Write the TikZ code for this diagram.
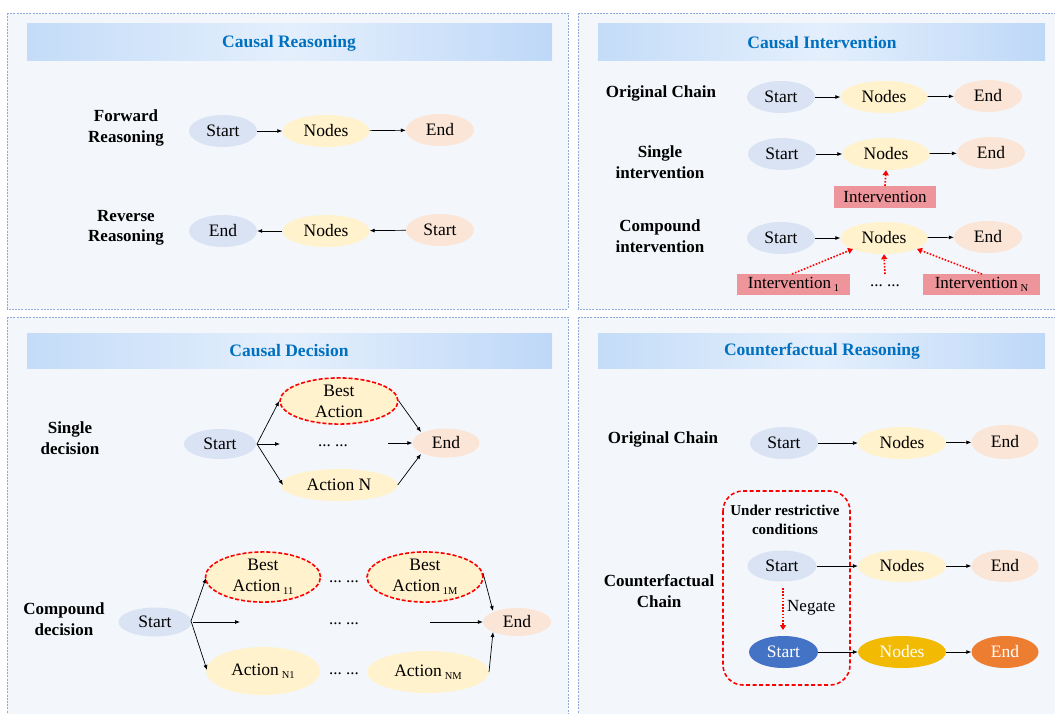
\documentclass[tikz,border=0pt]{standalone}
\usepackage{fontspec}
\setmainfont{Liberation Serif}
\usetikzlibrary{arrows.meta,shapes.geometric}
\definecolor{panelbg}{HTML}{F3F7FC}
\definecolor{panelbd}{HTML}{8EAADB}
\definecolor{hdrL}{HTML}{C4DCF8}
\definecolor{hdrM}{HTML}{E4EFFC}
\definecolor{hdrR}{HTML}{BED8F8}
\definecolor{ttl}{HTML}{0070C0}
\definecolor{cstart}{HTML}{DAE3F3}
\definecolor{cnodes}{HTML}{FFF2CC}
\definecolor{cend}{HTML}{FBE5D6}
\definecolor{cint}{HTML}{EE949B}
\definecolor{dstart}{HTML}{4472C4}
\definecolor{dnodes}{HTML}{F2BA02}
\definecolor{dend}{HTML}{ED7D31}
\tikzset{
  panel/.style={fill=panelbg, draw=panelbd, line width=0.8pt, dash pattern=on 2pt off 1.2pt},
  hdr/.style={left color=hdrL, right color=hdrR, middle color=hdrM, draw=none},
  ttlstyle/.style={font=\fontsize{17.5}{19}\selectfont\bfseries, text=ttl},
  lbl/.style={font=\fontsize{17}{20.5}\selectfont\bfseries, align=center, inner sep=0pt},
  ell/.style={ellipse, minimum width=68pt, minimum height=32pt, inner sep=0pt, font=\fontsize{17.5}{21}\selectfont, align=center},
  sn/.style={ell, fill=cstart},
  nn/.style={ell, fill=cnodes, minimum width=87pt},
  en/.style={ell, fill=cend},
  best/.style={draw=red, line width=1.6pt, dash pattern=on 4pt off 2pt},
  arr/.style={-{Latex[length=5pt,width=4pt]}, line width=0.7pt, black},
  rarr/.style={-{Triangle[length=5pt,width=6pt]}, line width=1.6pt, red, dash pattern=on 1.6pt off 1.6pt},
  ibox/.style={fill=cint, inner sep=0pt, font=\fontsize{17}{19}\selectfont},
  txt/.style={font=\fontsize{17}{19}\selectfont, inner sep=0pt}
}
\newcommand{\sbs}[1]{\raisebox{-3pt}{\fontsize{10.5}{10}\selectfont #1}}
\newcommand{\twodots}{...\ ...}
\begin{document}
\begin{tikzpicture}[x=1pt,y=-1pt]
\useasboundingbox (0,0) rectangle (1055,713);
\fill[white] (0,0) rectangle (1055,713);
% panels
\draw[panel] (7,13) rectangle (568,309);
\draw[panel] (578,13) rectangle (1062,309);
\draw[panel] (7,317) rectangle (568,725);
\draw[panel] (578,317) rectangle (1062,725);
% headers
\shade[hdr] (27,23) rectangle (552,60);
\shade[hdr] (598,23) rectangle (1045,60);
\shade[hdr] (27,333) rectangle (552,368);
\shade[hdr] (598,333) rectangle (1045,368);
\node[ttlstyle] (t1) at (289,43) {Causal Reasoning};
\node[ttlstyle] (t2) at (822,43) {Causal Intervention};
\node[ttlstyle] (t3) at (289,351) {Causal Decision};
\node[ttlstyle] (t4) at (822,351) {Counterfactual Reasoning};

% ---------- Panel 1
\node[lbl] (fr) at (126,128) {Forward\\Reasoning};
\node[sn] (fs) at (223,131) {Start};
\node[nn] (fn) at (326,131) {Nodes};
\node[en] (fe) at (440,130) {End};
\draw[arr] (fs) -- (fn);
\draw[arr] (fn) -- (fe);
\node[lbl] (rr) at (126,228) {Reverse\\Reasoning};
\node[sn] (re) at (223,231) {End};
\node[nn] (rn) at (326,231) {Nodes};
\node[en] (rs) at (440,230) {Start};
\draw[arr] (rn) -- (re);
\draw[arr] (rs) -- (rn);

% ---------- Panel 2
\node[lbl] (oc) at (661,93) {Original Chain};
\node[sn] (is1) at (781,97) {Start};
\node[nn] (in1) at (884,97) {Nodes};
\node[en] (ie1) at (988,96) {End};
\draw[arr] (is1) -- (in1);
\draw[arr] (in1) -- (ie1);
\node[lbl] (si) at (660,162) {Single\\intervention};
\node[sn] (is2) at (782,154) {Start};
\node[nn] (in2) at (886,154) {Nodes};
\node[en] (ie2) at (991,153) {End};
\draw[arr] (is2) -- (in2);
\draw[arr] (in2) -- (ie2);
\node[ibox, minimum width=102pt, minimum height=22pt] (ib) at (885,197) {Intervention};
\draw[rarr] (ib.north) -- (in2.south);
\node[lbl] (ci) at (660,236) {Compound\\intervention};
\node[sn] (is3) at (781,238) {Start};
\node[nn] (in3) at (884,238) {Nodes};
\node[en] (ie3) at (988,237) {End};
\draw[arr] (is3) -- (in3);
\draw[arr] (in3) -- (ie3);
\node[ibox, minimum width=113pt, minimum height=21pt] (ib1) at (793.5,284.5) {Intervention\,\sbs{1}\hspace{6pt}};
\node[ibox, minimum width=117pt, minimum height=21pt] (ib2) at (981.5,284.5) {Intervention\,\sbs{N}};
\node[txt] (idots) at (885,286) {\twodots};
\coordinate (ic1) at (792,274);
\coordinate (ic2) at (885,274);
\coordinate (ic3) at (982,274);
\draw[rarr] (ic1) -- (853,249);
\draw[rarr] (ic2) -- (in3.south);
\draw[rarr] (ic3) -- (917,249);

% ---------- Panel 3
\node[lbl] (sd) at (70,438) {Single\\decision};
\node[sn, minimum width=72pt, minimum height=30pt] (ds) at (220,444) {Start};
\node[nn, minimum width=118pt, minimum height=41pt, best] (dba) at (339,401) {Best\\Action};
\node[txt] (dd) at (333,446) {\twodots};
\node[nn, minimum width=117pt, minimum height=32pt] (dan) at (339,485) {Action N};
\node[en, minimum width=67pt, minimum height=29pt] (de) at (446,443) {End};
\coordinate (dsr) at (257,444);
\draw[arr] (dsr) -- (dba.west);
\draw[arr] (dsr) -- (280,444);
\draw[arr] (dsr) -- (283,485);
\draw[arr] (388,443) -- (de.west);
\draw[arr] (dba.east) -- (421,432);
\draw[arr] (dan.east) -- (421,454);

\node[lbl] (cd) at (64,619) {Compound\\decision};
\node[sn, minimum width=73pt, minimum height=29pt] (cs) at (155,622) {Start};
\node[nn, minimum width=115pt, minimum height=48pt, best] (cb1) at (263,577) {Best\\Action\,\sbs{11}};
\node[nn, minimum width=116pt, minimum height=48pt, best] (cb2) at (425,577) {Best\\Action\,\sbs{1M}};
\node[nn, minimum width=114pt, minimum height=48pt] (cn1) at (263,671) {Action\,\sbs{N1}};
\node[nn, minimum width=122pt, minimum height=42pt] (cn2) at (428,672) {Action\,\sbs{NM}};
\node[en, minimum width=68pt, minimum height=28pt] (ce) at (517,622) {End};
\node[txt] (cdt1) at (344,582) {\twodots};
\node[txt] (cdt2) at (344,624) {\twodots};
\node[txt] (cdt3) at (344,674) {\twodots};
\coordinate (csr) at (191,621);
\draw[arr] (csr) -- (206,578);
\draw[arr] (193,622) -- (240,622);
\draw[arr] (csr) -- (207,670);
\draw[arr] (430,622) -- (ce.west);
\draw[arr] (483,573) -- (493,611);
\draw[arr] (489,672) -- (493,632);

% ---------- Panel 4
\node[lbl] (oc2) at (663,439) {Original Chain};
\node[sn] (os) at (784,443) {Start};
\node[nn, minimum width=88pt] (on) at (902,443) {Nodes};
\node[en, minimum width=67pt, minimum height=34pt] (oe) at (1005,442) {End};
\draw[arr] (os) -- (on);
\draw[arr] (on) -- (oe);
\node[lbl] (cc) at (659,591) {Counterfactual\\Chain};
\draw[red, line width=1.6pt, dash pattern=on 4pt off 2.5pt, rounded corners=20pt] (723,491) rectangle (850,685);
\node[lbl, font=\fontsize{15}{19}\selectfont\bfseries] (urc) at (785,520) {Under restrictive\\conditions};
\node[sn, minimum width=69pt, minimum height=31pt] (cs1) at (782,566) {Start};
\node[nn, minimum width=88pt] (cn1b) at (902,566) {Nodes};
\node[en, minimum width=67pt] (ce1) at (1005,566) {End};
\draw[arr] (cs1) -- (cn1b);
\draw[arr] (cn1b) -- (ce1);
\node[ell, fill=dstart, text=white, minimum width=69pt] (cs2) at (783.5,652) {Start};
\node[ell, fill=dnodes, text=white, minimum width=88pt] (cn2b) at (902,652) {Nodes};
\node[ell, fill=dend, text=white, minimum width=67pt] (ce2) at (1005,652) {End};
\draw[arr] (cs2) -- (cn2b);
\draw[arr] (cn2b) -- (ce2);
\draw[rarr] (783,588) -- (783,630);
\node[txt, anchor=west] (neg) at (787,608) {Negate};
\end{tikzpicture}
\end{document}
